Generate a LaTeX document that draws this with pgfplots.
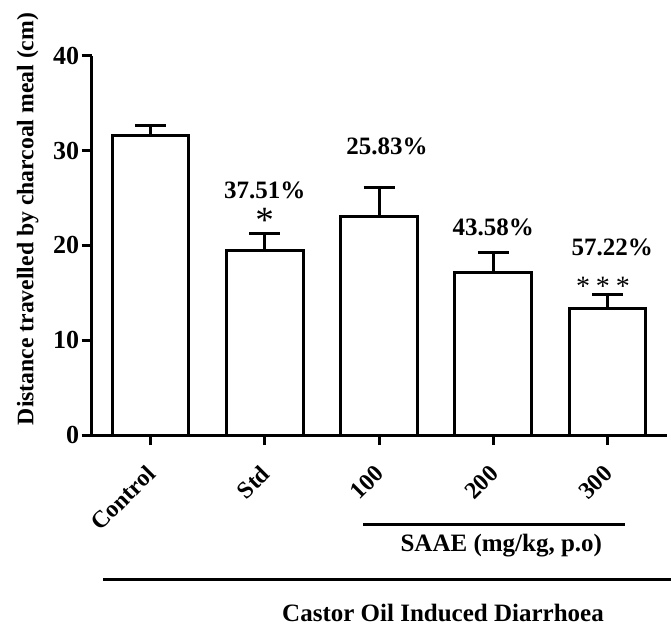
\documentclass[border=0pt]{standalone}
\usepackage{fontspec}
\setmainfont{Liberation Serif}
\usepackage{pgfplots}
\pgfplotsset{compat=1.18}
\usetikzlibrary{calc}
\begin{document}
\begin{tikzpicture}
\begin{axis}[
  scale only axis,
  width=575.3pt, height=379.3pt,
  xmin=-0.514, xmax=4.52, ymin=0, ymax=40,
  axis x line*=bottom, axis y line*=left,
  axis line style={line width=3pt, -},
  every tick/.style={line width=3pt, black},
  major tick length=10pt,
  tick align=outside,
  xtick={0,1,2,3,4},
  xticklabels={Control,Std,100,200,300},
  ytick={0,10,20,30,40},
  /pgf/number format/assume math mode=true,
  tick label style={font=\fontsize{26}{30}\selectfont\bfseries},
  x tick label style={rotate=45, anchor=east, yshift=-18.1pt, xshift=-13.5pt, font=\fontsize{24}{28}\selectfont\bfseries},
  y tick label style={xshift=1pt},
  ylabel={Distance travelled by charcoal meal (cm)},
  every axis y label/.style={at={(rel axis cs:0,0.5695)}, rotate=90, anchor=base, yshift=58.4pt, font=\fontsize{23.7}{28}\selectfont\bfseries},
  clip=false,
]
\addplot[ybar, bar width=76.6pt, fill=white, draw=black, line width=3pt,
  error bars/.cd, y dir=plus, y explicit,
  error bar style={line width=3pt},
  error mark options={rotate=90, mark size=15.5pt, line width=3pt}]
  coordinates {
  (0,31.6) +- (0,1.0)
  (1,19.45) +- (0,1.75)
  (2,23.0) +- (0,3.1)
  (3,17.1) +- (0,2.1)
  (4,13.3) +- (0,1.5)
};
\coordinate (O) at (axis cs:-0.514,0);
\begin{scope}[every node/.style={font=\fontsize{25}{30}\selectfont\bfseries, anchor=base, inner sep=0pt}]
\node at (axis cs:1,24.99) {37.51\%};
\node at (axis cs:2.07,29.53) {25.83\%};
\node at (axis cs:3.0,21.09) {43.58\%};
\node at (axis cs:4.04,18.98) {57.22\%};
\node[yshift=-17pt, font=\fontsize{37}{40}\selectfont] at (axis cs:1,23.1) {*};
\node[yshift=-12.9pt, font=\fontsize{28}{30}\selectfont] at (axis cs:3.96,16.1) {*\hspace{6pt}*\hspace{6pt}*};
\draw[line width=3pt] (axis cs:1.86,-9.39) -- (axis cs:4.15,-9.39);
\node at (axis cs:3.07,-12.31) {SAAE (mg/kg, p.o)};
\draw[line width=3pt] (axis cs:-0.415,-15.22) -- (axis cs:4.555,-15.22);
\node at (axis cs:2.56,-19.69) {Castor Oil Induced Diarrhoea};
\end{scope}
\end{axis}
\pgfresetboundingbox
\path[use as bounding box] ($(O)+(-91.7pt,-191pt)$) rectangle +(671pt,626pt);
\end{tikzpicture}
\end{document}
